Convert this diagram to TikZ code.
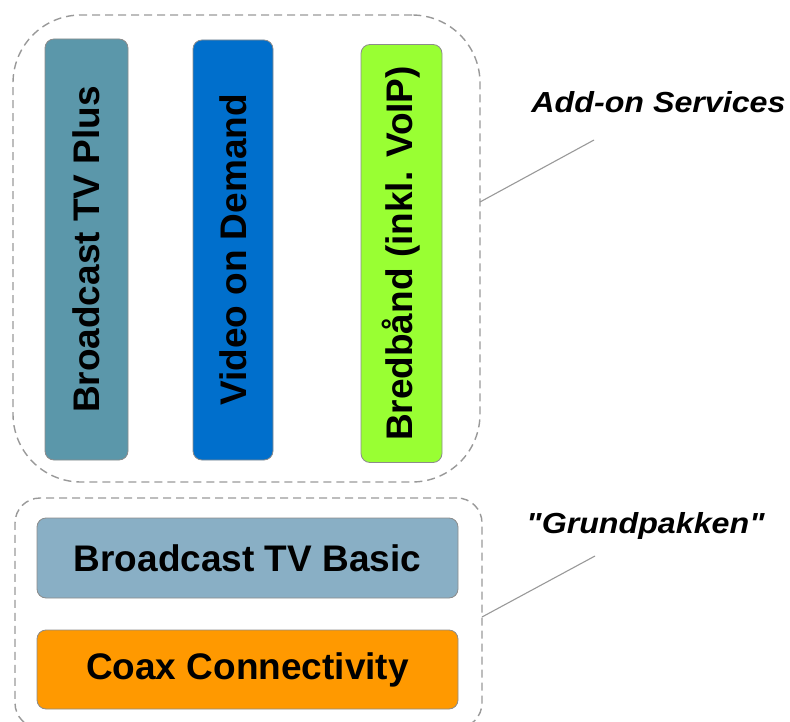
\documentclass[tikz,border=0pt]{standalone}
\usepackage{fontspec}
\setmainfont{Liberation Sans}
\newfontfamily\lblfont{Liberation Sans}
\definecolor{plus}{HTML}{5B97AA}
\definecolor{vod}{HTML}{006FCC}
\definecolor{bb}{HTML}{99FF33}
\definecolor{basic}{HTML}{89AFC5}
\definecolor{coax}{HTML}{FF9900}
\begin{document}
\begin{tikzpicture}[x=1pt,y=-1pt,
  bar/.style={draw=black!45, line width=0.8pt, rounded corners=9pt, inner sep=0pt,
    font=\bfseries\fontsize{37}{44}\selectfont},
  grp/.style={draw=black!40, line width=1.4pt, dash pattern=on 8pt off 5pt, inner sep=0pt},
  lbl/.style={font=\lblfont\bfseries\itshape\fontsize{29}{34}\selectfont, xscale=1.11, transform shape, anchor=base},
  lead/.style={draw=black!40, line width=1.1pt}]
\useasboundingbox (0,0) rectangle (790,722);
\clip (0,0) rectangle (790,722);
% group boxes
\node[grp, rounded corners=68pt, minimum width=467pt, minimum height=467pt] (topgrp) at (246.5,248.5) {};
\node[grp, rounded corners=25pt, minimum width=467pt, minimum height=230pt] (botgrp) at (248.5,613) {};
% vertical bars
\node[bar, fill=plus, rotate=90, minimum width=421pt, minimum height=83pt] (plusbar) at (86.5,249.5) {Broadcast TV Plus};
\node[bar, fill=vod, rotate=90, minimum width=420pt, minimum height=80pt] (vodbar) at (233,250) {Video on Demand};
\node[bar, fill=bb, rotate=90, minimum width=418pt, minimum height=81pt] (bbbar) at (401.5,253.5) {Bredbånd (inkl. VoIP)};
% horizontal bars
\node[bar, fill=basic, minimum width=421pt, minimum height=80pt] (basicbar) at (247.5,558) {Broadcast TV Basic};
\node[bar, fill=coax, minimum width=421pt, minimum height=79pt] (coaxbar) at (247.5,669.5) {Coax Connectivity};
% labels
\node[lbl] (addon) at (658.5,113) {Add-on Services};
\node[lbl] (grund) at (645.5,533) {"Grundpakken"};
% leaders
\coordinate (l1a) at (480,202);
\coordinate (l1b) at (594,140);
\coordinate (l2a) at (482,617);
\coordinate (l2b) at (595,556);
\draw[lead] (l1a) -- (l1b);
\draw[lead] (l2a) -- (l2b);
\end{tikzpicture}
\end{document}
